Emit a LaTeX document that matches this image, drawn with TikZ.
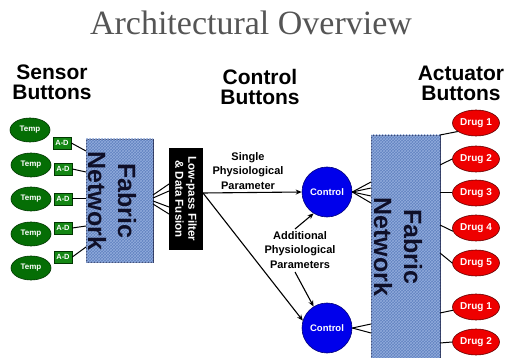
\documentclass[tikz,border=0pt]{standalone}
\usepackage{fontspec}
\setmainfont{Liberation Sans}
\newfontfamily\titlefont{Liberation Serif}
\usetikzlibrary{shapes.geometric,arrows.meta,patterns}
\definecolor{tempfill}{RGB}{5,110,5}
\definecolor{tempdraw}{RGB}{0,55,0}
\definecolor{adfill}{RGB}{20,135,20}
\definecolor{drugfill}{RGB}{238,0,0}
\definecolor{drugdraw}{RGB}{100,0,0}
\definecolor{ctrlfill}{RGB}{0,0,235}
\definecolor{ctrldraw}{RGB}{0,0,120}
\definecolor{fabfill}{RGB}{98,130,192}
\definecolor{fabhatch}{RGB}{145,172,220}
\definecolor{fabdraw}{RGB}{45,55,95}
\definecolor{fabtext}{RGB}{15,15,40}
\definecolor{titlegray}{RGB}{85,85,85}
\tikzset{
  temp/.style={ellipse,draw=tempdraw,line width=0.6pt,fill=tempfill,minimum width=40pt,minimum height=24pt,inner sep=0pt,text=white,font=\bfseries\fontsize{8}{9}\selectfont},
  adbox/.style={rectangle,draw=tempdraw,line width=0.6pt,fill=adfill,minimum width=18pt,minimum height=12pt,inner sep=0pt,text=white,font=\bfseries\fontsize{7.5}{8}\selectfont},
  drug/.style={ellipse,draw=drugdraw,line width=0.6pt,fill=drugfill,minimum width=47pt,minimum height=26pt,inner sep=0pt,text=white,font=\bfseries\fontsize{10}{11}\selectfont},
  ctrl/.style={circle,draw=ctrldraw,line width=0.6pt,fill=ctrlfill,minimum size=50pt,inner sep=0pt,text=white,font=\bfseries\fontsize{9.5}{10}\selectfont},
  fabric/.style={rectangle,draw=fabdraw,line width=0.8pt,fill=fabfill,inner sep=0pt,
    postaction={pattern=crosshatch,pattern color=fabhatch}},
  fabtxt/.style={rotate=-90,align=center,text=fabtext,font=\bfseries\fontsize{25}{30}\selectfont},
  head/.style={align=center,font=\bfseries\fontsize{21}{20}\selectfont,anchor=base},
  lbl/.style={align=center,font=\bfseries\fontsize{11}{14.5}\selectfont},
  wire/.style={line width=1pt,black},
  arr/.style={line width=1.1pt,black,-{Stealth[length=6pt,width=5pt]}},
}
\begin{document}
\begin{tikzpicture}[x=1pt,y=-1pt]
\useasboundingbox[fill=white] (0,0) rectangle (506,358);
\begin{scope}
\clip (0,0) rectangle (506,358);
% title and headings
\node[font=\titlefont\fontsize{34}{36}\selectfont,text=titlegray,anchor=base] (title) at (251,35) {Architectural Overview};
\node[head] (hs) at (52,100) {Sensor\\Buttons};
\node[head] (hc) at (260,105) {Control\\Buttons};
\node[head] (ha) at (461,101) {Actuator\\Buttons};

% left fabric
\node[fabric,minimum width=67pt,minimum height=123pt] (fabL) at (119.5,200.5) {};
\node[fabtxt] (fabLt) at (112,201) {Fabric\\Network};

% sensors
\node[temp] (t1) at (30,130) {Temp};
\node[temp] (t2) at (31,165) {Temp};
\node[temp] (t3) at (31,199) {Temp};
\node[temp] (t4) at (31,234) {Temp};
\node[temp] (t5) at (31,268) {Temp};
\node[adbox] (a1) at (62,143) {A-D};
\node[adbox] (a2) at (63,169) {A-D};
\node[adbox] (a3) at (63,199) {A-D};
\node[adbox] (a4) at (63,228) {A-D};
\node[adbox] (a5) at (63,257) {A-D};
\coordinate (fi1) at (86,151);
\coordinate (fi2) at (86,172);
\coordinate (fi3) at (86,199);
\coordinate (fi4) at (86,226);
\coordinate (fi5) at (86,247);
\draw[wire] (a1.east) -- (fi1);
\draw[wire] (a2.east) -- (fi2);
\draw[wire] (a3.east) -- (fi3);
\draw[wire] (a4.east) -- (fi4);
\draw[wire] (a5.east) -- (fi5);

% low-pass filter
\node[rectangle,fill=black,minimum width=34pt,minimum height=102pt,inner sep=0pt] (lp) at (186,199) {};
\node[rotate=-90,align=center,text=white,font=\bfseries\fontsize{11.5}{13}\selectfont] (lpt) at (186,199) {Low-pass Filter\\\& Data Fusion};
\coordinate (fo1) at (153,195);
\coordinate (fo2) at (153,198);
\coordinate (fo3) at (153,201);
\coordinate (fo4) at (153,204);
\coordinate (li1) at (169,184);
\coordinate (li2) at (169,191);
\coordinate (li3) at (169,207);
\coordinate (li4) at (169,214);
\draw[wire] (fo1) -- (li1);
\draw[wire] (fo2) -- (li2);
\draw[wire] (fo3) -- (li3);
\draw[wire] (fo4) -- (li4);

% controls
\node[ctrl] (c1) at (327,192) {Control};
\node[ctrl] (c2) at (327,328) {Control};
\coordinate (lpo) at (203,193);
\draw[arr] (lpo) -- (c1.west);
\draw[arr] (lpo) -- (c2.163);
\node[lbl] (single) at (248,171) {Single\\Physiological\\Parameter};
\node[lbl] (addl) at (300,250) {Additional\\Physiological\\Parameters};
\coordinate (au) at (295,229);
\coordinate (ad) at (295,272);
\draw[arr] (au) -- (c1.238);
\draw[arr] (ad) -- (c2.122);

% right fabric
\node[fabric,minimum width=69pt,minimum height=226pt] (fabR) at (405.5,248) {};
\node[fabtxt] (fabRt) at (398,247) {Fabric\\Network};
\coordinate (ri1) at (371,182);
\coordinate (ri2) at (371,188);
\coordinate (ri3) at (371,196);
\coordinate (ri4) at (371,203);
\coordinate (ri5) at (371,324);
\coordinate (ri6) at (371,333);
\draw[wire] (c1.east) -- (ri1);
\draw[wire] (c1.east) -- (ri2);
\draw[wire] (c1.east) -- (ri3);
\draw[wire] (c1.east) -- (ri4);
\draw[wire] (c2.east) -- (ri5);
\draw[wire] (c2.east) -- (ri6);

% drugs
\node[drug] (d1) at (476,123) {Drug 1};
\node[drug] (d2) at (476,159) {Drug 2};
\node[drug] (d3) at (476,193) {Drug 3};
\node[drug] (d4) at (476,228) {Drug 4};
\node[drug] (d5) at (476,263) {Drug 5};
\node[drug] (d6) at (476,307) {Drug 1};
\node[drug] (d7) at (476,342) {Drug 2};
\coordinate (ro1) at (440,135);
\coordinate (ro2) at (440,165);
\coordinate (ro3) at (440,193);
\coordinate (ro4) at (440,225);
\coordinate (ro5) at (440,253);
\coordinate (ro6) at (440,313);
\coordinate (ro7) at (440,343);
\draw[wire] (ro1) -- (d1.205);
\draw[wire] (ro2) -- (d2.west);
\draw[wire] (ro3) -- (d3.west);
\draw[wire] (ro4) -- (d4.188);
\draw[wire] (ro5) -- (d5.west);
\draw[wire] (ro6) -- (d6.188);
\draw[wire] (ro7) -- (d7.west);
\end{scope}
\end{tikzpicture}
\end{document}
